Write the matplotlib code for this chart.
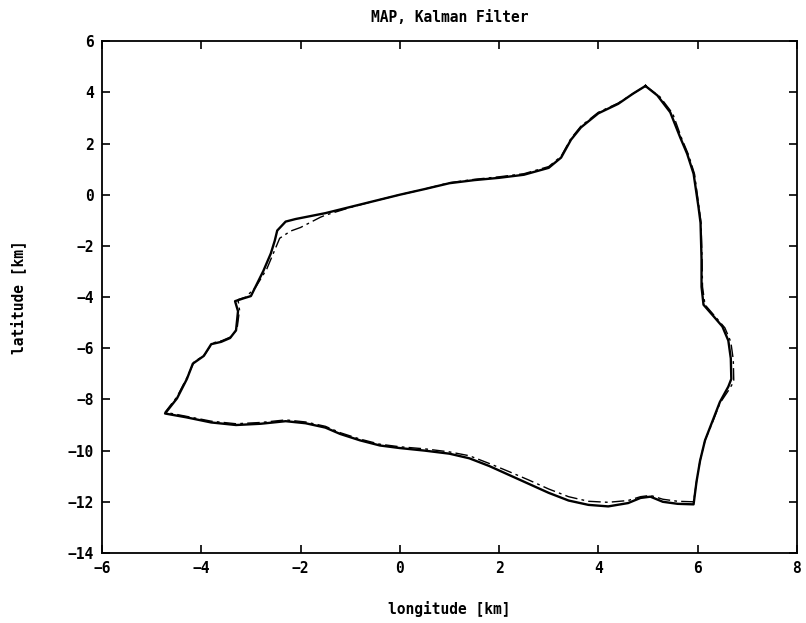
import matplotlib
matplotlib.use("Agg")
import matplotlib.pyplot as plt

# true track (solid), clockwise from the top peak
true_lon = [4.95, 5.19, 5.45, 5.65, 5.79, 5.92, 6.02, 6.06, 6.08, 6.08, 6.12, 6.3, 6.5, 6.62,
            6.67, 6.68, 6.62, 6.45, 6.3, 6.15, 6.05, 5.98, 5.92,
            5.6, 5.3, 5.05, 4.85, 4.6, 4.2, 3.8, 3.4, 3.0, 2.6, 2.2, 1.8, 1.4, 1.0, 0.5,
            0.0, -0.4, -0.8, -1.2, -1.5, -1.9, -2.3, -2.8, -3.3, -3.8, -4.3, -4.73,
            -4.49, -4.29, -4.17, -3.95, -3.8, -3.6, -3.42, -3.3, -3.26, -3.32, -3.15,
            -3.0, -2.75, -2.6, -2.52, -2.47, -2.3, -2.1,
            -1.5, -1.0, -0.5, 0.0, 0.5, 1.0, 1.5, 2.0, 2.5, 3.0, 3.25, 3.45, 3.65, 4.0,
            4.4, 4.7, 4.95]
true_lat = [4.25, 3.88, 3.22, 2.24, 1.6, 0.82, -0.5, -1.1, -2.5, -3.6, -4.3, -4.7, -5.15, -5.7,
            -6.4, -7.2, -7.5, -8.1, -8.85, -9.6, -10.4, -11.2, -12.1,
            -12.08, -12.0, -11.8, -11.85, -12.05, -12.18, -12.12, -11.95, -11.65, -11.3,
            -10.95, -10.6, -10.3, -10.12, -10.0,
            -9.9, -9.8, -9.6, -9.35, -9.1, -8.93, -8.85, -8.95, -9.0, -8.9, -8.7, -8.55,
            -7.96, -7.2, -6.6, -6.3, -5.84, -5.75, -5.6, -5.3, -4.55, -4.16, -4.05,
            -3.96, -2.98, -2.3, -1.8, -1.4, -1.05, -0.95,
            -0.72, -0.48, -0.24, 0.0, 0.22, 0.45, 0.57, 0.66, 0.78, 1.05, 1.45, 2.15, 2.63, 3.18,
            3.55, 3.95, 4.25]

# Kalman filter estimate (dash-dot)
est_lon = [4.95, 5.24, 5.5, 5.68, 5.82, 5.94, 6.03, 6.07, 6.09, 6.1, 6.15, 6.35, 6.55, 6.67,
           6.72, 6.73, 6.64, 6.45, 6.3, 6.15, 6.05, 5.98, 5.92,
           5.6, 5.3, 5.05, 4.85, 4.6, 4.2, 3.8, 3.4, 3.0, 2.6, 2.2, 1.8, 1.4, 1.0, 0.5,
           0.0, -0.4, -0.8, -1.2, -1.5, -1.9, -2.3, -2.8, -3.3, -3.8, -4.3, -4.73,
           -4.49, -4.29, -4.15, -3.93, -3.78, -3.58, -3.4, -3.28, -3.23, -3.26, -3.1,
           -2.9, -2.68, -2.55, -2.42, -2.2, -2.0, -1.6,
           -1.5, -1.0, -0.5, 0.0, 0.5, 1.0, 1.5, 2.0, 2.5, 3.0, 3.25, 3.45, 3.65, 4.0,
           4.4, 4.7, 4.95]
est_lat = [4.25, 3.83, 3.17, 2.2, 1.55, 0.8, -0.5, -1.1, -2.5, -3.6, -4.3, -4.75, -5.2, -5.75,
           -6.45, -7.3, -7.6, -8.15, -8.9, -9.6, -10.4, -11.2, -12.0,
           -11.98, -11.9, -11.75, -11.8, -11.95, -12.02, -11.98, -11.8, -11.5, -11.15,
           -10.82, -10.5, -10.2, -10.05, -9.93,
           -9.85, -9.75, -9.55, -9.3, -9.05, -8.88, -8.8, -8.9, -8.95, -8.85, -8.66, -8.5,
           -7.9, -7.15, -6.55, -6.25, -5.8, -5.7, -5.55, -5.25, -4.5, -4.1, -4.0,
           -3.6, -2.9, -2.3, -1.7, -1.42, -1.28, -0.88,
           -0.8, -0.5, -0.24, 0.0, 0.22, 0.47, 0.6, 0.7, 0.82, 1.1, 1.5, 2.2, 2.68, 3.22,
           3.58, 3.95, 4.25]

xticks = [-6, -4, -2, 0, 2, 4, 6, 8]
yticks = [6, 4, 2, 0, -2, -4, -6, -8, -10, -12, -14]

plt.rcParams['font.family'] = 'DejaVu Sans Mono'
plt.rcParams['font.weight'] = 'bold'

fig = plt.figure(figsize=(8.06, 6.23), dpi=100)
ax = fig.add_axes([0.1266, 0.1124, 0.862, 0.8215])

ax.plot(true_lon, true_lat, color='black', lw=1.7, ls='-')
ax.plot(est_lon, est_lat, color='black', lw=1.0, ls=(0, (9, 3, 2, 3)))

ax.set_xlim(-6, 8)
ax.set_ylim(-14, 6)
ax.set_xticks(xticks)
ax.set_yticks(yticks)
ax.tick_params(direction='in', length=6, width=1.2, top=True, right=True,
               labelsize=10.5, pad=6)
for sp in ax.spines.values():
    sp.set_linewidth(1.3)

ax.set_title('MAP, Kalman Filter', fontsize=10.5, fontweight='bold', pad=14)
ax.set_xlabel('longitude [km]', fontsize=10.5, fontweight='bold', labelpad=18)
ax.set_ylabel('latitude [km]', fontsize=10.5, fontweight='bold', labelpad=30)

fig.savefig('out.png', dpi=100)
